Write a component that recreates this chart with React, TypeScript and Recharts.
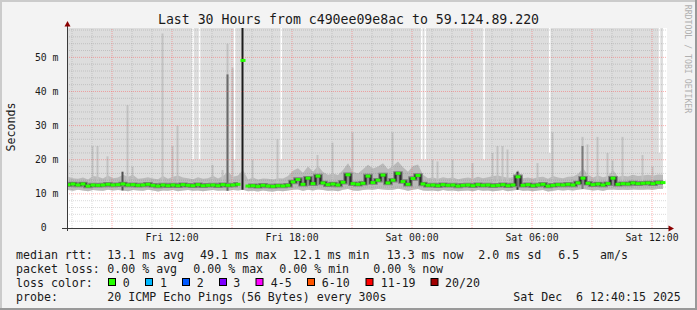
import React from 'react';
import {
  ComposedChart,
  Area,
  Line,
  Bar,
  Cell,
  XAxis,
  YAxis,
  ReferenceLine,
  ReferenceArea,
  CartesianGrid,
} from 'recharts';

// ---------- data (values in milliseconds, 15-minute steps starting Fri 06:48) ----------
const START_HOUR = 6.8; // hours since Fri 00:00
const STEP_HOURS = 0.25;
const Y_MAX = 58.6;

const medianMs = [
  12.7, 12.9, 12.6, 12.9, 12.3, 12.6, 12.5, 12.6, 12.8, 12.6,
  12.7, 12.9, 12.6, 12.7, 12.5, 12.6, 12.8, 12.5, 12.3, 12.6,
  12.4, 12.6, 12.4, 12.7, 12.5, 12.4, 12.7, 12.4, 12.5, 12.6,
  12.4, 12.7, 12.5, 12.6, 12.8, 49.1, 12.3, 12.4, 12.2, 12.5,
  12.3, 12.2, 12.4, 12.3, 12.5, 13.5, 14.2, 12.8, 14.6, 13.0,
  15.2, 13.2, 12.7, 12.9, 12.6, 13.4, 15.6, 13.0, 12.8, 13.1,
  15.2, 13.3, 14.0, 15.5, 13.2, 14.0, 16.0, 13.6, 12.8, 14.5,
  15.4, 12.9, 12.5, 12.6, 12.4, 12.7, 12.5, 12.6, 12.3, 12.5,
  12.6, 12.4, 12.7, 12.5, 12.6, 12.4, 12.5, 12.7, 12.4, 12.6,
  15.0, 12.5, 12.7, 12.4, 12.6, 12.8, 12.3, 12.5, 12.7, 12.6,
  12.8, 12.6, 13.2, 14.6, 13.1, 12.7, 12.9, 12.6, 13.0, 14.6,
  12.8, 13.0, 12.9, 13.2, 13.0, 13.1, 13.2, 13.0, 13.3, 13.3,
];

const smokeLowMs = [
  11.1, 10.9, 11.2, 11.0, 10.8, 11.1, 11.0, 10.9, 11.2, 11.0,
  11.1, 11.0, 10.8, 11.1, 11.0, 10.9, 11.2, 11.0, 10.7, 11.0,
  10.9, 11.1, 10.8, 11.0, 11.1, 10.9, 11.0, 10.8, 11.0, 11.1,
  10.9, 11.0, 10.9, 11.1, 11.0, 11.2, 10.8, 10.9, 10.7, 11.0,
  10.8, 10.7, 10.9, 10.8, 11.0, 11.2, 11.3, 10.9, 11.2, 11.0,
  11.3, 11.1, 10.9, 11.0, 10.8, 11.2, 11.4, 11.0, 10.9, 11.1,
  11.3, 11.2, 11.4, 11.3, 11.1, 11.2, 11.5, 11.3, 10.9, 11.2,
  11.4, 11.0, 10.9, 11.0, 10.8, 11.1, 10.9, 11.0, 10.8, 10.9,
  11.0, 10.8, 11.1, 10.9, 11.0, 10.8, 10.9, 11.1, 10.8, 11.0,
  11.2, 10.9, 11.0, 10.8, 11.0, 11.1, 10.7, 10.9, 11.1, 11.0,
  11.1, 11.0, 11.2, 11.4, 11.2, 11.0, 11.1, 10.9, 11.2, 11.3,
  11.1, 11.2, 11.1, 11.3, 11.2, 11.2, 11.3, 11.2, 11.4, 11.4,
];

const smokeHighMs = [
  15.0, 14.6, 14.4, 14.8, 14.2, 15.2, 15.0, 14.5, 15.4, 14.6,
  14.8, 15.6, 15.0, 15.5, 14.4, 14.6, 14.9, 14.5, 14.3, 15.2,
  14.4, 15.0, 15.4, 14.8, 14.6, 14.3, 14.9, 14.4, 14.6, 15.3,
  14.5, 15.2, 16.5, 15.0, 15.4, 17.0, 14.2, 14.8, 14.2, 14.5,
  14.4, 14.2, 14.6, 14.5, 15.2, 16.8, 17.5, 16.2, 18.0, 16.5,
  18.2, 16.4, 15.6, 16.0, 15.5, 17.0, 19.0, 16.5, 16.0, 17.2,
  18.5, 17.4, 18.0, 19.0, 17.2, 18.2, 19.5, 17.8, 16.5, 18.2,
  18.6, 15.6, 14.6, 14.8, 14.4, 14.9, 14.6, 14.8, 14.3, 14.6,
  14.8, 14.5, 15.0, 14.6, 14.9, 15.2, 15.4, 15.0, 14.7, 14.8,
  17.0, 14.6, 14.8, 14.5, 14.9, 15.0, 14.4, 15.2, 14.8, 14.6,
  15.0, 15.1, 15.8, 17.5, 15.6, 14.8, 15.4, 14.9, 15.2, 17.0,
  15.0, 15.3, 15.1, 15.6, 15.2, 15.4, 15.6, 15.3, 15.7, 15.6,
];

// isolated single-probe outliers (light smoke) and dense outliers (dark smoke)
const lightSpikeIdx = [0, 5, 6, 8, 12, 13, 19, 21, 22, 29, 31, 32, 33, 37, 42, 50, 53, 57, 65, 73, 74, 77, 81, 85, 86, 87, 88, 94, 97, 103, 104, 106, 108, 109, 111, 115, 117];
const lightSpikeTop = [19, 24, 24, 21, 36, 18, 57, 24, 30, 18.5, 17, 54, 47, 20, 26, 21.4, 25, 28, 28, 20, 19.5, 20, 19, 22, 24, 24, 23, 19, 28, 26.7, 24.5, 26.7, 22, 19.8, 26.7, 21.4, 18];
const darkSpikeIdx = [11, 32, 35, 90, 103];
const darkSpikeTop = [16.5, 45, 58.6, 16.5, 24];
const darkSpikeShade = ['#505050', '#6a6a6a', '#1c1c1c', '#3a3a3a', '#7a7a7a'];

// unknown-data columns (hours since Fri 00:00) and their lower end (ms)
const gapHour = [13.015, 13.34, 15.09, 17.425, 24.45, 24.625, 27.565, 30.85, 36.34];
const gapBottomMs = [20, 20, 20, 20, 20, 20, 20, 22, 22];

const xTicks = [12, 18, 24, 30, 36];
const xTickLabels = ['Fri 12:00', 'Fri 18:00', 'Sat 00:00', 'Sat 06:00', 'Sat 12:00'];
const yTicks = [0, 10, 20, 30, 40, 50];
const yTickLabels = ['0\u00a0\u00a0', '10 m', '20 m', '30 m', '40 m', '50 m'];

const lossLabels = ['0', '1', '2', '3', '4-5', '6-10', '11-19', '20/20'];
const lossColors = ['#26ff00', '#00b8ff', '#0059ff', '#7e00ff', '#ff00ff', '#ff5500', '#ff0000', '#a10000'];

// ---------- table for recharts ----------
const data = medianMs.map((m, i) => {
  const li = lightSpikeIdx.indexOf(i);
  const di = darkSpikeIdx.indexOf(i);
  return {
    t: START_HOUR + i * STEP_HOURS,
    med: m,
    core: m < 30 ? m : null,
    grey: [smokeLowMs[i], Y_MAX],
    band: [smokeLowMs[i], smokeHighMs[i]],
    light: li >= 0 ? [m, lightSpikeTop[li]] : null,
    dark: di >= 0 ? [smokeLowMs[i], darkSpikeTop[di]] : null,
    darkShade: di >= 0 ? darkSpikeShade[di] : '#444',
  };
});

const hourLines = Array.from({ length: 30 }, (_, k) => 7 + k);
const msLines = Array.from({ length: 29 }, (_, k) => 2 + 2 * k);

const W = 697;
const H = 310;
const FONT = '"DejaVu Sans Mono", monospace';

const GreenDash = (props: any) => {
  const { cx, cy, index } = props;
  if (cx == null || cy == null || isNaN(cy)) return <g key={`gd${index}`} />;
  return <rect key={`gd${index}`} x={cx - 2.5} y={cy - 1.5} width={5} height={3} fill="#26ff00" />;
};

const legendLine1: [number, string][] = [
  [16, 'median rtt:'], [107.3, '13.1 ms avg'], [200, '49.1 ms max'], [292.7, '12.1 ms min'],
  [386.7, '13.3 ms now'], [478.3, '2.0 ms sd'], [558.3, '6.5'], [600, 'am/s'],
];
const legendLine2: [number, string][] = [
  [16, 'packet loss:'], [107.3, '0.00 % avg'], [193.3, '0.00 % max'], [279.3, '0.00 % min'], [373.3, '0.00 % now'],
];
const lossBoxX = [108.5, 145.5, 182.5, 219.5, 256, 307.5, 366, 431];
const lossLabelX = [122.7, 160, 196.7, 233.3, 270.7, 321.7, 380.7, 445];

export default function App() {
  return (
    <div style={{ position: 'absolute', left: 0, top: 0, width: W, height: H, background: '#f3f3f3', overflow: 'hidden' }}>
      <ComposedChart
        width={W}
        height={H}
        data={data}
        margin={{ top: 28, right: 30, bottom: 62, left: 10 }}
        barGap={-2}
      >
        <CartesianGrid horizontal={false} vertical={false} fill="#ffffff" />
        <XAxis
          type="number"
          dataKey="t"
          domain={[6.75, 36.75]}
          allowDataOverflow
          ticks={xTicks}
          interval={0}
          tickFormatter={(v: number) => xTickLabels[xTicks.indexOf(v)] ?? ''}
          axisLine={false}
          tickLine={false}
          tickSize={0}
          tickMargin={6}
          height={20}
          tick={{ fontFamily: FONT, fontSize: 9.8, fill: '#1a1a1a' }}
        />
        <YAxis
          type="number"
          domain={[0, Y_MAX]}
          allowDataOverflow
          ticks={yTicks}
          interval={0}
          tickFormatter={(v: number) => yTickLabels[yTicks.indexOf(v)] ?? ''}
          axisLine={false}
          tickLine={false}
          tickSize={0}
          tickMargin={8.5}
          width={57}
          tick={{ fontFamily: FONT, fontSize: 9.8, fill: '#1a1a1a' }}
        />
        <Area dataKey="grey" type="linear" fill="#dddddd" fillOpacity={1} stroke="none" isAnimationActive={false} />
        {msLines.map((v) => (
          <ReferenceLine
            key={`h${v}`}
            y={v}
            stroke={v % 10 === 0 ? '#ff5050' : '#707070'}
            strokeOpacity={v % 10 === 0 ? 0.45 : 0.25}
            strokeDasharray="1 1"
          />
        ))}
        {hourLines.map((v) => (
          <ReferenceLine
            key={`v${v}`}
            x={v}
            stroke={v % 3 === 0 ? '#ff5050' : '#707070'}
            strokeOpacity={v % 3 === 0 ? 0.45 : 0.25}
            strokeDasharray="1 1"
          />
        ))}
        {gapHour.map((g, k) => (
          <ReferenceArea key={`g${k}`} x1={g} x2={g + 0.075} y1={gapBottomMs[k]} y2={Y_MAX} fill="#ffffff" fillOpacity={1} stroke="none" />
        ))}
        <Area dataKey="band" type="linear" fill="#bababa" fillOpacity={1} stroke="none" isAnimationActive={false} />
        <Bar dataKey="light" barSize={2} fill="#c2c2c2" isAnimationActive={false} />
        <Line dataKey="core" type="step" stroke="#7e7e7e" strokeWidth={4.5} dot={false} activeDot={false} isAnimationActive={false} />
        <Bar dataKey="dark" barSize={2} isAnimationActive={false}>
          {data.map((d, i) => (
            <Cell key={`c${i}`} fill={d.darkShade} />
          ))}
        </Bar>
        <Line dataKey="core" type="step" stroke="#2a2a2a" strokeWidth={2.2} dot={false} activeDot={false} isAnimationActive={false} />
        <Line dataKey="med" type="linear" stroke="none" dot={GreenDash} activeDot={false} isAnimationActive={false} />
      </ComposedChart>

      <svg width={W} height={H} style={{ position: 'absolute', left: 0, top: 0, pointerEvents: 'none' }}>
        {/* frame */}
        <rect x={0} y={0} width={W} height={2} fill="#cbcbcb" />
        <rect x={0} y={0} width={2} height={H} fill="#cbcbcb" />
        <rect x={0} y={H - 2} width={W} height={2} fill="#999999" />
        <rect x={W - 2} y={0} width={2} height={H} fill="#999999" />

        {/* title */}
        <text x={348.5} y={23.8} textAnchor="middle" fontFamily={FONT} fontSize={13.2} fill="#1a1a1a">
          Last 30 Hours from c490ee09e8ac to 59.124.89.220
        </text>

        {/* watermark */}
        <text
          x={688}
          y={59}
          transform="rotate(90 688 59)"
          textAnchor="middle"
          dominantBaseline="central"
          fontFamily={FONT}
          fontSize={8.2}
          fill="#b0b0b0"
        >
          RRDTOOL / TOBI OETIKER
        </text>

        {/* vertical unit label */}
        <text
          x={11}
          y={127}
          transform="rotate(-90 11 127)"
          textAnchor="middle"
          dominantBaseline="central"
          fontFamily={FONT}
          fontSize={11.6}
          fill="#1a1a1a"
        >
          Seconds
        </text>

        {/* axes */}
        <line x1={62} y1={228.5} x2={670} y2={228.5} stroke="#3a3a3a" strokeWidth={1} />
        <line x1={67.5} y1={231} x2={67.5} y2={24} stroke="#3a3a3a" strokeWidth={1} />
        <polygon points="67.5,21 64.5,26.5 70.5,26.5" fill="#8b0000" />
        <polygon points="674,228.5 668.5,225.5 668.5,231.5" fill="#8b0000" />

        {/* legend */}
        <g fontFamily={FONT} fontSize={11.6} fill="#1a1a1a" style={{ whiteSpace: 'pre' }}>
          {legendLine1.map(([x, s], k) => (
            <text key={`l1${k}`} x={x} y={258.5}>{s}</text>
          ))}
          {legendLine2.map(([x, s], k) => (
            <text key={`l2${k}`} x={x} y={272.5}>{s}</text>
          ))}
          <text x={16} y={286.5}>loss color:</text>
          {lossLabels.map((s, k) => (
            <g key={`lc${k}`}>
              <rect x={lossBoxX[k]} y={278.5} width={7} height={7} fill={lossColors[k]} stroke="#000" strokeWidth={1} />
              <text x={lossLabelX[k]} y={286.5}>{s}</text>
            </g>
          ))}
          <text x={16} y={300.5}>probe:</text>
          <text x={107.3} y={300.5}>20 ICMP Echo Pings (56 Bytes) every 300s</text>
          <text x={513.3} y={300.5} style={{ whiteSpace: 'pre' }}>{'Sat Dec  6 12:40:15 2025'}</text>
        </g>
      </svg>
    </div>
  );
}
